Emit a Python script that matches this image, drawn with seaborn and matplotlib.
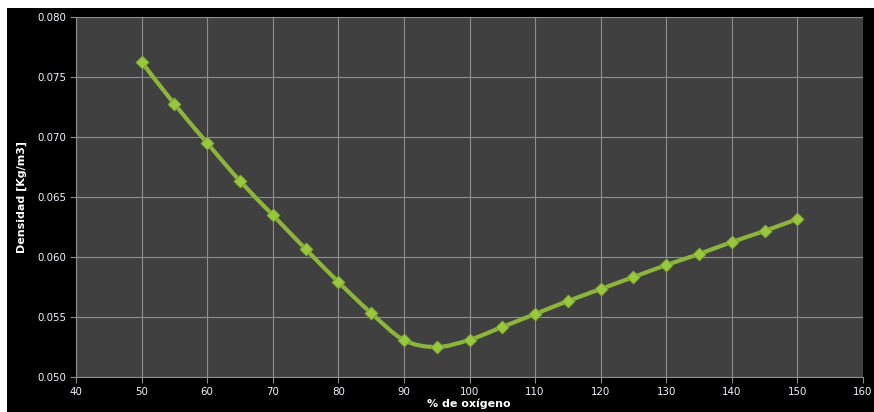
import numpy as np
import pandas as pd
import matplotlib
matplotlib.use("Agg")
import matplotlib.pyplot as plt
from matplotlib.path import Path
from matplotlib.patches import PathPatch, Rectangle
import seaborn as sns

# Oxygen percentage and resulting density
oxigeno = [50, 55, 60, 65, 70, 75, 80, 85, 90, 95, 100,
           105, 110, 115, 120, 125, 130, 135, 140, 145, 150]
densidad = [0.07625, 0.07275, 0.0695, 0.06633, 0.0635, 0.06067, 0.05792,
            0.05533, 0.05308, 0.0525, 0.0531, 0.05417, 0.05525, 0.05633,
            0.05733, 0.05833, 0.05933, 0.06025, 0.06125, 0.06217, 0.06317]
x_ticks = [40, 50, 60, 70, 80, 90, 100, 110, 120, 130, 140, 150, 160]
y_ticks = [0.050, 0.055, 0.060, 0.065, 0.070, 0.075, 0.080]

df = pd.DataFrame({"oxigeno": oxigeno, "densidad": densidad})

sns.set_theme(style="dark")
plt.rcParams["font.family"] = ["DejaVu Sans"]

W, H = 874, 412
fig = plt.figure(figsize=(W / 100, H / 100), dpi=100, facecolor="white")
# black chart frame
fig.patches.append(Rectangle((7 / W, 0), 1 - 7 / W, (H - 8) / H,
                             transform=fig.transFigure, facecolor="black",
                             edgecolor="none", zorder=-10))

ax = fig.add_axes([76 / W, 35 / H, (863 - 76) / W, (377 - 17) / H])
ax.set_zorder(1)
ax.set_facecolor("#404040")

line_color = "#8db53c"

# smoothed curve through the points (Catmull-Rom as cubic Bezier)
pts = np.column_stack([df["oxigeno"].to_numpy(float), df["densidad"].to_numpy(float)])
ext = np.vstack([pts[0], pts, pts[-1]])
verts = [tuple(pts[0])]
codes = [Path.MOVETO]
for i in range(1, len(ext) - 2):
    p0, p1, p2, p3 = ext[i - 1], ext[i], ext[i + 1], ext[i + 2]
    c1 = p1 + (p2 - p0) / 6.0
    c2 = p2 - (p3 - p1) / 6.0
    verts += [tuple(c1), tuple(c2), tuple(p2)]
    codes += [Path.CURVE4] * 3
ax.add_patch(PathPatch(Path(verts, codes), facecolor="none", edgecolor=line_color,
                       lw=3.0, capstyle="round", joinstyle="round", zorder=3))

sns.scatterplot(data=df, x="oxigeno", y="densidad", ax=ax, marker="D", s=44,
                color="#98c83e", edgecolor="#7a9c30", linewidth=0.6, zorder=4)

ax.set_xlim(40, 160)
ax.set_ylim(0.050, 0.080)
ax.set_xticks(x_ticks)
ax.set_yticks(y_ticks)
ax.set_yticklabels([f"{v:.3f}" for v in y_ticks])
ax.grid(True, color="#8e8e8e", lw=0.8)
ax.set_axisbelow(True)
for side in ["top", "right"]:
    ax.spines[side].set_visible(False)
for side in ["left", "bottom"]:
    ax.spines[side].set_visible(True)
    ax.spines[side].set_color("#8e8e8e")
    ax.spines[side].set_linewidth(0.8)
ax.tick_params(axis="both", colors="#8e8e8e", labelcolor="#f0f4fa", labelsize=7.4,
               length=4, width=0.8, direction="out", bottom=True, left=True, pad=3)

ax.set_xlabel("")
ax.set_ylabel("")
fig.text(469 / W, 1 - 404 / H, "% de oxígeno", color="white", fontsize=8,
         fontweight="bold", ha="center", va="center")
fig.text(22 / W, 1 - 197 / H, "Densidad [Kg/m3]", color="white", fontsize=8,
         fontweight="bold", ha="center", va="center", rotation=90)

fig.savefig("out.png", dpi=100, facecolor="white")
